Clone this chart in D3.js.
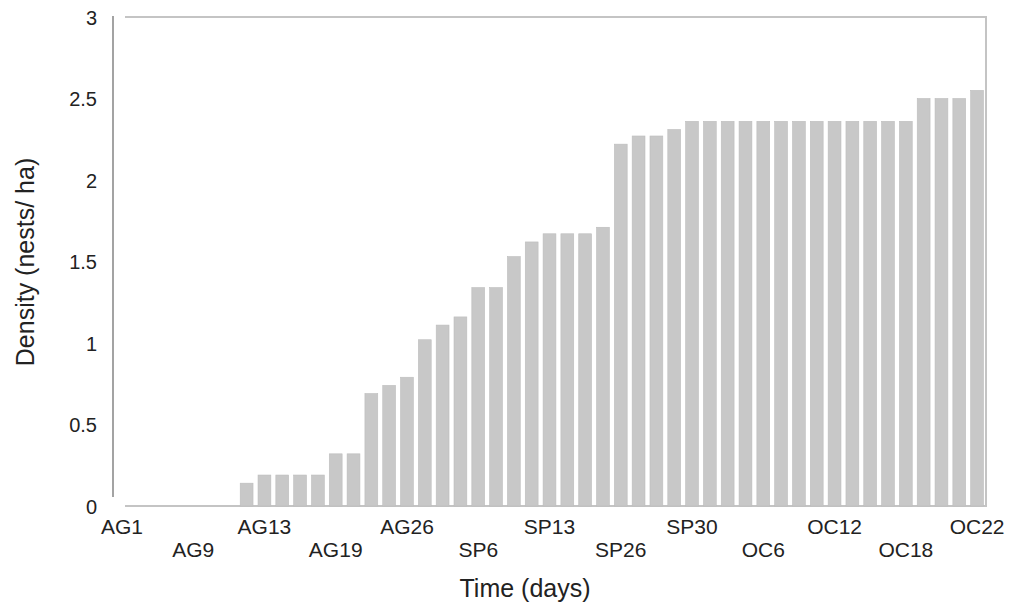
<!DOCTYPE html>
<meta charset="utf-8">
<style>

body {
  margin: 0;
  background: #fff;
}

text {
  font-family: "Liberation Sans", Arial, sans-serif;
  fill: #222;
}

.bar {
  fill: #c8c8c8;
  stroke: #bdbdbd;
  stroke-width: 0.6;
}

.frame {
  stroke: #c4c4c4;
  stroke-width: 2;
  fill: none;
}

.yline {
  stroke: #8c8c8c;
  stroke-width: 1.6;
}

</style>
<svg width="1018" height="604"></svg>
<script src="https://d3js.org/d3.v7.min.js"></script>
<script>

// sampling occasions (49), every 4th one labelled
var samples = d3.range(49);

var density = [
  0, 0, 0, 0, 0, 0, 0,
  0.14, 0.19, 0.19, 0.19, 0.19, 0.32, 0.32,
  0.69, 0.74, 0.79, 1.02, 1.11, 1.16, 1.34, 1.34,
  1.53, 1.62, 1.67, 1.67, 1.67, 1.71,
  2.22, 2.27, 2.27, 2.31,
  2.36, 2.36, 2.36, 2.36, 2.36, 2.36, 2.36, 2.36, 2.36, 2.36, 2.36, 2.36, 2.36,
  2.5, 2.5, 2.5, 2.55
];

var tickLabels = ["AG1", "AG9", "AG13", "AG19", "AG26", "SP6", "SP13",
                  "SP26", "SP30", "OC6", "OC12", "OC18", "OC22"];

var yTicks = [0, 0.5, 1, 1.5, 2, 2.5, 3];

var svg = d3.select("svg");

var plotLeft = 113, plotRight = 986, plotTop = 17, plotBottom = 506;

var x = d3.scaleBand()
    .domain(samples)
    .range([plotLeft, plotRight])
    .paddingInner(0.28)
    .paddingOuter(0.14);

var y = d3.scaleLinear()
    .domain([0, 3])
    .range([plotBottom, plotTop]);

// plot frame (top, right, bottom)
svg.append("path")
    .attr("class", "frame")
    .attr("d", "M125," + y(3) + "H" + plotRight + "V" + y(0) + "H125");

svg.append("line")
    .attr("class", "yline")
    .attr("x1", plotLeft).attr("x2", plotLeft)
    .attr("y1", y(3) - 1).attr("y2", y(0) - 9);

svg.selectAll(".bar")
    .data(density)
  .enter().append("rect")
    .attr("class", "bar")
    .attr("x", function(d, i) { return x(samples[i]); })
    .attr("width", x.bandwidth())
    .attr("y", function(d) { return y(d); })
    .attr("height", function(d) { return y(0) - y(d); });

// y tick labels
var yAxis = d3.axisLeft(y)
    .tickValues(yTicks)
    .tickFormat(d3.format("~g"))
    .tickSize(0)
    .tickPadding(16);

var gY = svg.append("g")
    .attr("transform", "translate(" + plotLeft + ",0)")
    .call(yAxis);
gY.select(".domain").remove();
gY.selectAll("text")
    .attr("font-size", 20)
    .attr("font-family", null)
    .attr("fill", "#222")
    .attr("dy", "0.35em");

// x tick labels, alternating rows
var xAxis = d3.axisBottom(x)
    .tickValues(samples.filter(function(d, i) { return i % 4 === 0; }))
    .tickFormat(function(d, i) { return tickLabels[i]; })
    .tickSize(0)
    .tickPadding(0);

var gX = svg.append("g")
    .attr("transform", "translate(0," + plotBottom + ")")
    .call(xAxis);
gX.select(".domain").remove();
gX.selectAll("text")
    .attr("font-size", 21)
    .attr("font-family", null)
    .attr("fill", "#222")
    .attr("dy", null)
    .attr("y", function(d, i) { return i % 2 ? 51 : 28; });

svg.append("text")
    .attr("x", 525)
    .attr("y", 597)
    .attr("text-anchor", "middle")
    .attr("font-size", 25)
    .text("Time (days)");

svg.append("text")
    .attr("transform", "translate(34,262)rotate(-90)")
    .attr("text-anchor", "middle")
    .attr("font-size", 25)
    .text("Density (nests/ ha)");

</script>
